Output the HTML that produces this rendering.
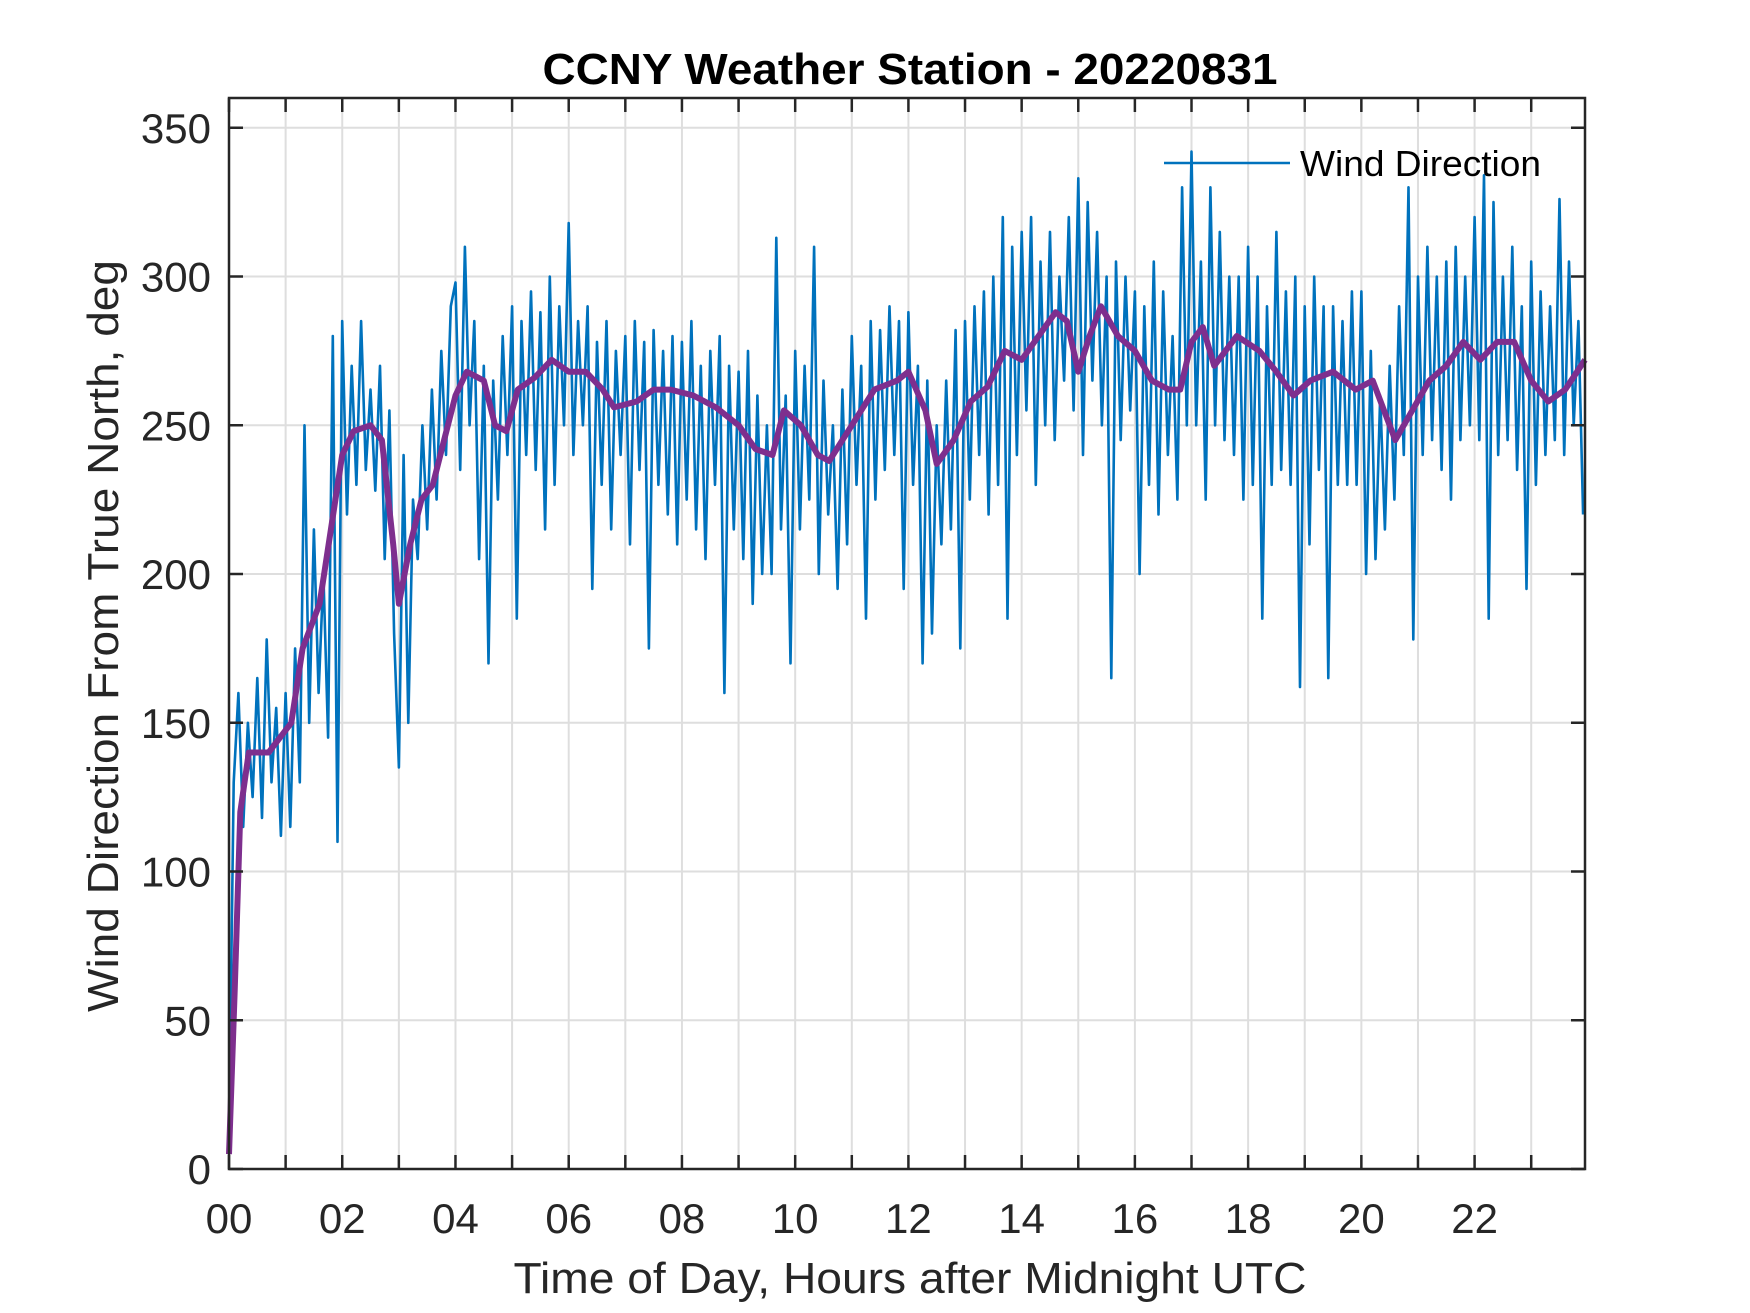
<!DOCTYPE html>
<html><head><meta charset="utf-8"><style>
html,body{margin:0;padding:0;background:#fff;}
svg{display:block;font-family:"Liberation Sans",Arial,sans-serif;}
</style></head><body>
<svg id="chart" width="1750" height="1313" viewBox="0 0 1750 1313" xmlns="http://www.w3.org/2000/svg">
<rect width="1750" height="1313" fill="#fff"/>
<g id="grid"></g>
<g id="series"></g>
<g id="axes"></g>
<text x="910" y="84" text-anchor="middle" font-size="44" font-weight="bold" fill="#000" textLength="735" lengthAdjust="spacingAndGlyphs">CCNY Weather Station - 20220831</text>
<text x="910" y="1293" text-anchor="middle" font-size="44" fill="#262626" textLength="793" lengthAdjust="spacingAndGlyphs">Time of Day, Hours after Midnight UTC</text>
<text transform="translate(118,636) rotate(-90)" text-anchor="middle" font-size="44" fill="#262626" textLength="752" lengthAdjust="spacingAndGlyphs">Wind Direction From True North, deg</text>
<g>
<line x1="1164" y1="163" x2="1290" y2="163" stroke="#0072BD" stroke-width="2.5"/>
<text x="1300" y="176" font-size="36" fill="#000" textLength="241" lengthAdjust="spacingAndGlyphs">Wind Direction</text>
</g>
</svg>
<script>
const xTicks=[0,2,4,6,8,10,12,14,16,18,20,22];
const xTickLabels=["00","02","04","06","08","10","12","14","16","18","20","22"];
const yTicks=[0,50,100,150,200,250,300,350];
const windRaw=[
10,130,160,115,150,125,165,118,178,130,155,112,
160,115,175,130,250,150,215,160,200,145,280,110,
285,220,270,230,285,235,262,228,270,205,255,180,
135,240,150,225,205,250,215,262,225,275,240,290,
298,235,310,250,285,205,270,170,265,225,280,240,
290,185,285,240,295,235,288,215,300,230,290,250,
318,240,285,250,290,195,278,230,285,215,275,240,
280,210,285,235,278,175,282,230,275,220,280,210,
278,225,285,215,270,205,275,230,280,160,270,215,
268,205,275,190,260,200,250,200,313,215,260,170,
275,215,270,225,310,200,265,220,250,195,262,210,
280,230,270,185,285,225,282,235,290,240,285,195,
288,230,270,170,265,180,250,210,265,215,282,175,
285,225,290,240,295,220,300,230,320,185,310,240,
315,255,320,230,305,250,315,245,300,265,320,255,
333,240,325,265,315,250,300,165,305,245,300,255,
295,200,290,230,305,220,295,240,280,225,330,250,
342,250,305,225,330,250,315,245,300,240,300,225,
310,230,300,185,290,230,315,235,295,230,300,162,
290,210,300,235,290,165,290,230,285,230,295,230,
295,200,275,205,260,215,270,225,290,240,330,178,
300,240,310,245,300,235,305,225,310,245,300,250,
320,245,334,185,325,240,300,245,310,235,290,195,
305,230,295,240,290,245,326,240,305,250,285,220];
const meanHours=[0,0.1,0.2,0.35,0.7,0.9,1.1,1.3,1.6,1.8,2.0,2.2,2.5,2.7,2.9,3.0,3.2,3.4,3.6,3.8,4.0,4.2,4.5,4.7,4.9,5.1,5.4,5.7,6.0,6.3,6.6,6.8,7.2,7.5,7.8,8.2,8.6,9.0,9.3,9.6,9.8,10.1,10.4,10.6,11.0,11.4,11.8,12.0,12.3,12.5,12.8,13.1,13.4,13.7,14.0,14.3,14.6,14.8,15.0,15.2,15.4,15.7,16.0,16.3,16.6,16.8,17.0,17.2,17.4,17.8,18.2,18.5,18.8,19.1,19.5,19.9,20.2,20.4,20.6,20.9,21.2,21.5,21.8,22.1,22.4,22.7,23.0,23.3,23.6,23.95];
const meanValues=[5,60,120,140,140,145,150,175,190,215,240,248,250,245,210,190,210,225,230,245,260,268,265,250,248,262,266,272,268,268,262,256,258,262,262,260,256,250,242,240,255,250,240,238,250,262,265,268,255,237,245,258,263,275,272,280,288,285,268,280,290,280,275,265,262,262,278,283,270,280,275,268,260,265,268,262,265,255,245,255,265,270,278,272,278,278,265,258,262,272];

const NS="http://www.w3.org/2000/svg";
const L=229,R=1585,T=98,B=1169,XMAX=23.95,YMAX=360;
function sx(h){return L+h/XMAX*(R-L);}
function sy(v){return B-v/YMAX*(B-T);}
function mk(tag,attrs,parent){const e=document.createElementNS(NS,tag);for(const k in attrs)e.setAttribute(k,attrs[k]);parent.appendChild(e);return e;}
const grid=document.getElementById('grid'),axes=document.getElementById('axes'),series=document.getElementById('series');
for(let h=0;h<24;h++){
  const g=mk('line',{x1:sx(h),x2:sx(h),y1:T,y2:B,stroke:'#dedede','stroke-width':2},grid);
  
  
  const t1=mk('line',{x1:sx(h),x2:sx(h),y1:B,y2:B-14,stroke:'#262626','stroke-width':2.5},axes);
  
  
  const t2=mk('line',{x1:sx(h),x2:sx(h),y1:T,y2:T+14,stroke:'#262626','stroke-width':2.5},axes);
  
  
}
yTicks.forEach(v=>{
  const g=mk('line',{x1:L,x2:R,y1:sy(v),y2:sy(v),stroke:'#dedede','stroke-width':2},grid);
  
  
  const t1=mk('line',{x1:L,x2:L+14,y1:sy(v),y2:sy(v),stroke:'#262626','stroke-width':2.5},axes);
  
  
  const t2=mk('line',{x1:R,x2:R-14,y1:sy(v),y2:sy(v),stroke:'#262626','stroke-width':2.5},axes);
  
  
  const lb=mk('text',{x:211,y:sy(v)+15,'text-anchor':'end','font-size':42,fill:'#262626'},axes);
  
  
  lb.textContent=v;
});
xTicks.forEach((h,i)=>{
  const lb=mk('text',{x:sx(h),y:1233,'text-anchor':'middle','font-size':42,fill:'#262626'},axes);
  
  
  lb.textContent=xTickLabels[i];
});
const box=mk('rect',{x:L,y:T,width:R-L,height:B-T,fill:'none',stroke:'#262626','stroke-width':2.5},axes);


const step=5/60;
const wd=windRaw.map((v,i)=>sx(i*step).toFixed(1)+','+sy(v).toFixed(1)).join(' ');
const bl=mk('polyline',{points:wd,fill:'none',stroke:'#0072BD','stroke-width':2.6,'stroke-linejoin':'round'},series);


const mp=meanValues.map((v,i)=>sx(meanHours[i]).toFixed(1)+','+sy(v).toFixed(1)).join(' ');
const ml=mk('polyline',{points:mp,fill:'none',stroke:'#7E2F8E','stroke-width':6,'stroke-linejoin':'round'},series);


</script>
</body></html>
